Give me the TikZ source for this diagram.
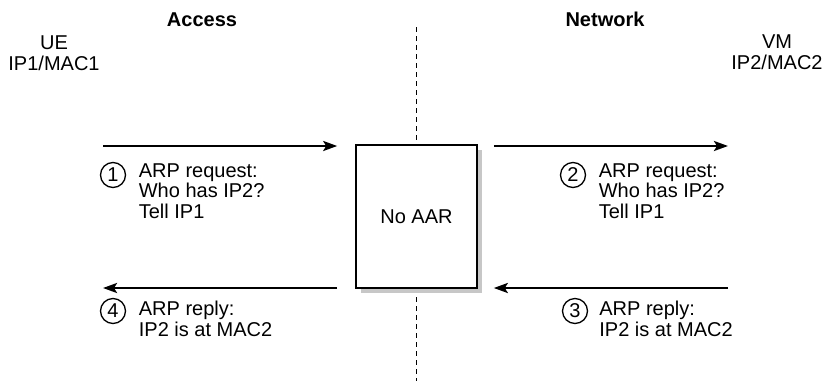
\documentclass[tikz,border=0pt]{standalone}
\usepackage{fontspec}
\setmainfont{Liberation Sans}
\usetikzlibrary{arrows.meta,calc,positioning,shadows}

\begin{document}
\begin{tikzpicture}[x=1pt, y=-1pt, every node/.style={font=\fontsize{20}{20.5}\selectfont, inner sep=0pt}]
    \useasboundingbox (0,0) rectangle (824,383);
    \tikzset{
      msgline/.style={line width=2.5pt, -{Stealth[length=14pt, width=10pt, inset=3pt]}},
      stepnum/.style={circle, draw, line width=1.3pt, minimum size=25pt},
      msgtext/.style={anchor=base west, align=left}
    }

    \node[font=\fontsize{20}{20.5}\selectfont\bfseries, anchor=base] (access) at (202,26) {Access};
    \node[font=\fontsize{20}{20.5}\selectfont\bfseries, anchor=base] (network) at (605,26) {Network};
    \node[anchor=base, align=center] (ue) at (54,70) {UE\\IP1/MAC1};
    \node[anchor=base, align=center] (vm) at (777,69) {VM\\IP2/MAC2};

    \draw[line width=0.9pt, dash pattern=on 5pt off 4pt] (416,27) coordinate (divtop) -- (416,381) coordinate (divbot);
    \node[draw, line width=1.6pt, fill=white, minimum width=121pt, minimum height=143pt,
          drop shadow={shadow xshift=5pt, shadow yshift=-5pt, fill=black!22, opacity=1}] (aar) at (416.5,216.5) {No AAR};

    \coordinate (a1s) at (103,146);
    \coordinate (a1e) at ($(aar.west)+(-18,0)$);
    \coordinate (a2s) at ($(aar.east)+(16,0)$);
    \coordinate (a2e) at (728,146);
    \draw[msgline] (a1s) -- (a1e |- a1s);
    \draw[msgline] (a2s |- a2e) -- (a2e);
    \coordinate (a3s) at (728,288);
    \coordinate (a4e) at (103,288);
    \draw[msgline] (a3s) -- (a2s |- a3s);
    \draw[msgline] (a1e |- a4e) -- (a4e);

    \node[stepnum] (n1) at (113,175) {1};
    \node[msgtext] (req1) at ($(n1.east)+(12.5,43)$) {ARP request:\\Who has IP2?\\Tell IP1};
    \node[stepnum] (n2) at (573,175) {2};
    \node[msgtext] (req2) at ($(n2.east)+(12.5,43)$) {ARP request:\\Who has IP2?\\Tell IP1};
    \node[stepnum] (n3) at (575,311) {3};
    \node[msgtext] (rep3) at ($(n3.east)+(11,25)$) {ARP reply:\\IP2 is at MAC2};
    \node[stepnum] (n4) at (113,311) {4};
    \node[msgtext] (rep4) at ($(n4.east)+(12.5,25)$) {ARP reply:\\IP2 is at MAC2};
\end{tikzpicture}
\end{document}
